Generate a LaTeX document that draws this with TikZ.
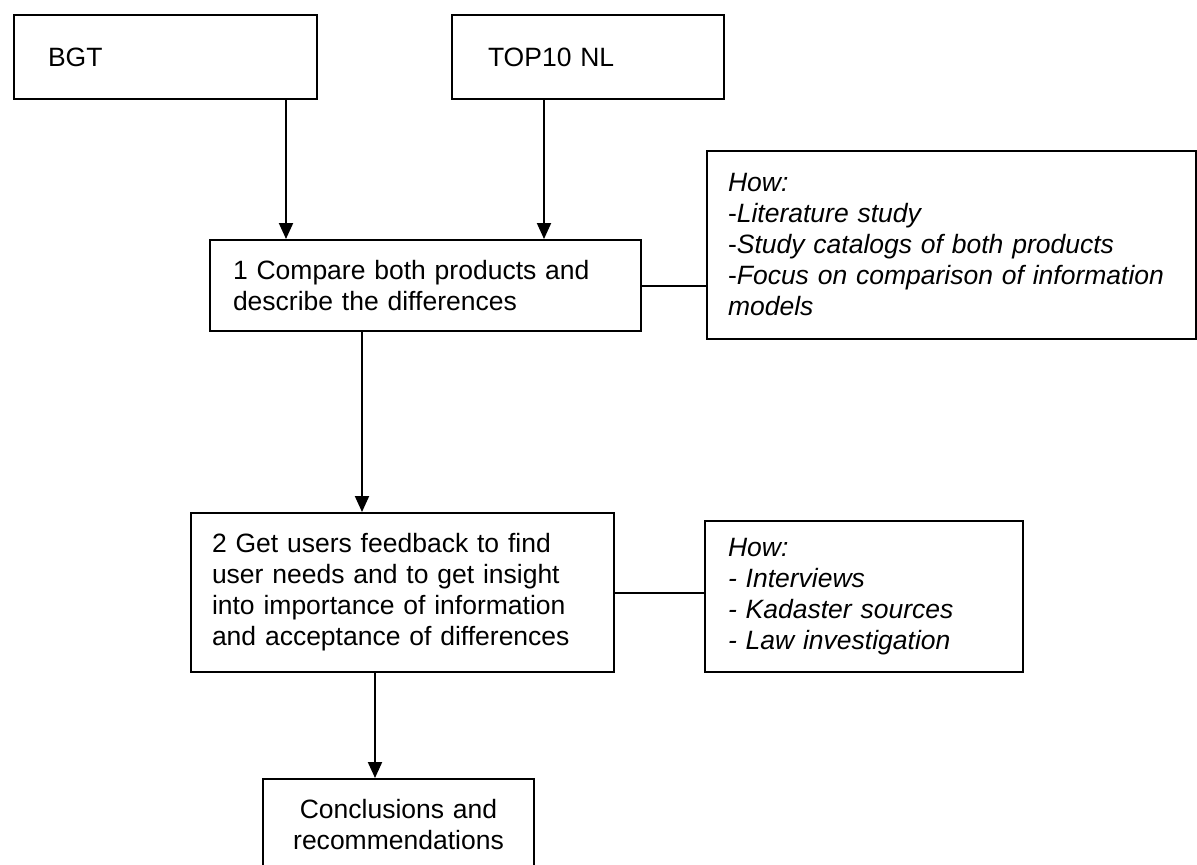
\documentclass[tikz,border=0pt]{standalone}
\usepackage{fontspec}
\setmainfont{Liberation Sans}
\usepackage{tikz}
\usetikzlibrary{arrows.meta,positioning}

\begin{document}
\begin{tikzpicture}[x=0.5pt,y=-0.5pt,line width=1pt,>={Triangle[length=8pt,width=7pt]},
  box/.style={draw,anchor=north west,align=left,inner ysep=0pt,
    font=\fontsize{13.25}{15.5}\selectfont},
  howbox/.style={box,font=\fontsize{13.25}{15.5}\selectfont\itshape}]
\useasboundingbox (0,0) rectangle (1197,864);
\node[box,inner xsep=17pt,text width=117.5pt,minimum height=42pt] (bgt) at (13,14) {BGT};
\node[box,inner xsep=18pt,text width=100pt,minimum height=42pt] (top10) at (451,14) {TOP10 NL};
\node[box,inner xsep=11.5pt,text width=192.5pt,minimum height=45.5pt] (cmp) at (209,239)
  {1 Compare both products and\\describe the differences};
\node[howbox,inner xsep=10.5pt,text width=223.5pt,minimum height=94pt] (how1) at (706,150)
  {How:\\\upshape-\itshape Literature study\\\upshape-\itshape Study catalogs of both products\\
   \upshape-\itshape Focus on comparison of information\\models};
\node[box,inner xsep=10.5pt,text width=190.5pt,minimum height=79.5pt] (fb) at (190,512)
  {2 Get users feedback to find\\user needs and to get insight\\into importance of information\\and acceptance of differences\\[6pt]};
\node[howbox,inner xsep=11.5pt,text width=136pt,minimum height=75.5pt] (how2) at (704,520)
  {How:\\- Interviews\\- Kadaster sources\\- Law investigation};
\node[box,align=center,inner xsep=10.25pt,text width=115pt,minimum height=46pt] (conc) at (262,778)
  {Conclusions and\\recommendations};
\draw[->] ([xshift=60.25pt]bgt.south) -- ([xshift=60.25pt]bgt.south |- cmp.north);
\draw[->] ([xshift=-22pt]top10.south) -- ([xshift=-22pt]top10.south |- cmp.north);
\draw[->] ([xshift=-31.75pt]cmp.south) -- ([xshift=-31.75pt]cmp.south |- fb.north);
\draw[->] ([xshift=-13.75pt]fb.south) -- ([xshift=-13.75pt]fb.south |- conc.north);
\draw (cmp.east) -- (cmp.east -| how1.west);
\draw (fb.east) -- (fb.east -| how2.west);
\end{tikzpicture}
\end{document}
